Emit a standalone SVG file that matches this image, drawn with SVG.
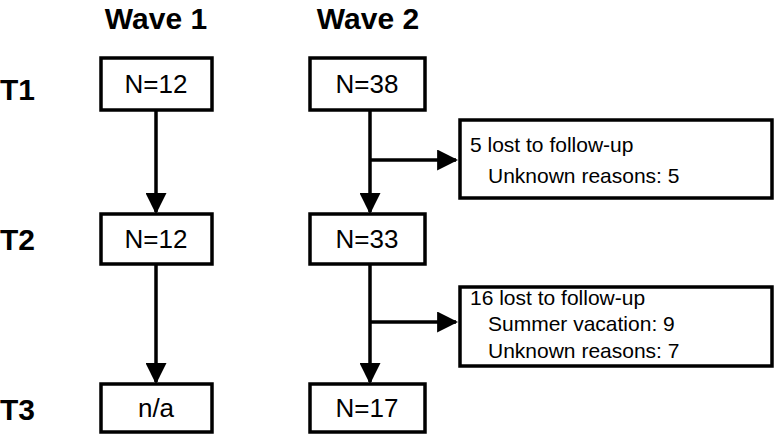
<svg xmlns="http://www.w3.org/2000/svg" width="780" height="437" viewBox="0 0 780 437">
<style>
.b{fill:#fff;stroke:#000;stroke-width:3.5}
.t{font-family:"Liberation Sans",Arial,sans-serif;fill:#000}
.h{font-size:30px;font-weight:bold}
.n{font-size:26px;text-anchor:middle}
.s{font-size:21px}
.c{stroke:#000;stroke-width:3.5;fill:none;marker-end:url(#a)}
</style>
<defs><marker id="a" viewBox="0 0 10 10" refX="9" refY="5" markerWidth="6" markerHeight="6" orient="auto" markerUnits="strokeWidth"><path d="M0,0L10,5L0,10z" fill="#000"/></marker></defs>
<rect width="780" height="437" fill="#fff"/>
<g id="labels">
<text class="t h" x="156" y="29" text-anchor="middle">Wave 1</text>
<text class="t h" x="368" y="29" text-anchor="middle">Wave 2</text>
<text class="t h" x="0" y="100">T1</text>
<text class="t h" x="0" y="250">T2</text>
<text class="t h" x="0" y="420">T3</text>
</g>
<g id="connectors">
<path class="c" d="M156,110V212"/>
<path class="c" d="M156,264V382"/>
<path class="c" d="M370,110V212"/>
<path class="c" d="M370,264V382"/>
<path class="c" d="M370,160H456"/>
<path class="c" d="M370,322H456"/>
</g>
<g id="w1t1"><rect class="b" x="101" y="58" width="111" height="52"/><text class="t n" x="156" y="93">N=12</text></g>
<g id="w2t1"><rect class="b" x="310" y="58" width="115" height="52"/><text class="t n" x="367" y="93">N=38</text></g>
<g id="w1t2"><rect class="b" x="101" y="214" width="111" height="50"/><text class="t n" x="156" y="248">N=12</text></g>
<g id="w2t2"><rect class="b" x="310" y="214" width="115" height="50"/><text class="t n" x="367" y="248">N=33</text></g>
<g id="w1t3"><rect class="b" x="101" y="384" width="111" height="48"/><text class="t n" x="156" y="417">n/a</text></g>
<g id="w2t3"><rect class="b" x="310" y="384" width="115" height="48"/><text class="t n" x="367" y="417">N=17</text></g>
<g id="lost1"><rect class="b" x="460" y="120" width="312" height="78"/><text class="t s" x="470" y="152">5 lost to follow-up</text><text class="t s" x="488" y="183">Unknown reasons: 5</text></g>
<g id="lost2"><rect class="b" x="460" y="287" width="312" height="79"/><text class="t s" x="470" y="305">16 lost to follow-up</text><text class="t s" x="488" y="331">Summer vacation: 9</text><text class="t s" x="488" y="358">Unknown reasons: 7</text></g>
</svg>
